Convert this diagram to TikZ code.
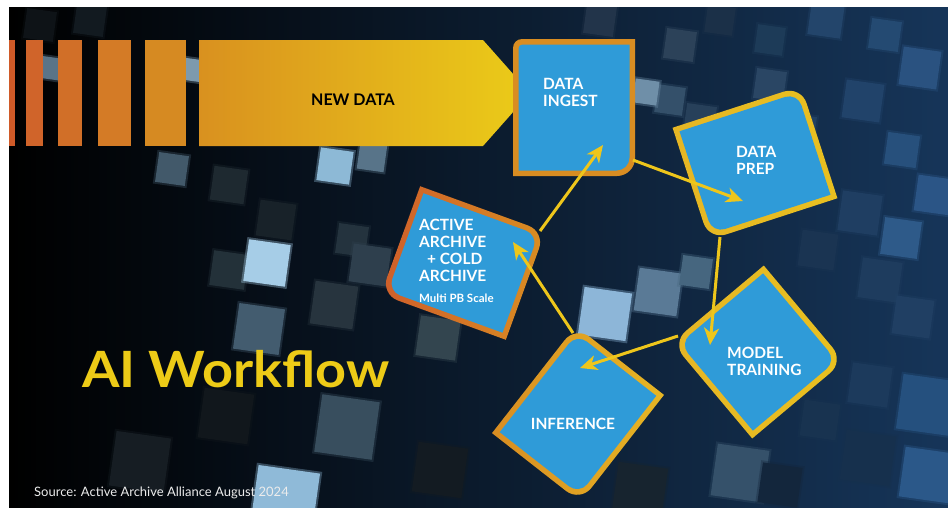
\documentclass[tikz,border=0pt]{standalone}
\usepackage{fontspec}
\usepackage{graphicx}
\setmainfont{Lato}
\usetikzlibrary{arrows.meta}

\definecolor{bgmid}{HTML}{081018}
\definecolor{bgright}{HTML}{163559}
\definecolor{boxblue}{HTML}{2F9BD8}
\definecolor{flowyellow}{HTML}{EEC61B}
\definecolor{titleyellow}{HTML}{EDCB17}
\definecolor{barA}{HTML}{CF5A28}
\definecolor{barB}{HTML}{D0642A}
\definecolor{barC}{HTML}{D16F28}
\definecolor{barD}{HTML}{D47B26}
\definecolor{barE}{HTML}{D68A22}
\definecolor{arrowL}{HTML}{D9911F}
\definecolor{arrowR}{HTML}{EBCC18}
\definecolor{rimOrange}{HTML}{D98D22}
\definecolor{rimRed}{HTML}{CF5F2A}
\definecolor{rimGold}{HTML}{E6B624}
\definecolor{rimYellow}{HTML}{E9C020}

% background tile with a faint halo: centre x, centre y, side, HTML colour
\newcommand{\bgsq}[4]{%
  \definecolor{sqc}{HTML}{#4}%
  \begin{scope}[shift={(#1,#2)}, rotate=-8]
    \fill[sqc, opacity=0.35] ({-(#3)/2-2},{-(#3)/2-2}) rectangle ({(#3)/2+2},{(#3)/2+2});
    \fill[sqc] ({-(#3)/2},{-(#3)/2}) rectangle ({(#3)/2},{(#3)/2});
  \end{scope}}

% card outline: width, height, radius of top-right corner, radius of bottom-left corner, path options
\newcommand{\cardshape}[5]{%
  \pgfmathsetmacro\cW{(#1)/2}%
  \pgfmathsetmacro\cH{(#2)/2}%
  \pgfmathsetmacro\cR{#3}%
  \pgfmathsetmacro\cK{0.448*(#3)}%
  \pgfmathsetmacro\cS{#4}%
  \pgfmathsetmacro\cL{0.448*(#4)}%
  \path[#5] (-\cW,-\cH) -- ({\cW-\cR},-\cH)
    .. controls ({\cW-\cK},-\cH) and (\cW,{-\cH+\cK}) .. (\cW,{-\cH+\cR})
    -- (\cW,\cH) -- ({-\cW+\cS},\cH)
    .. controls ({-\cW+\cL},\cH) and (-\cW,{\cH-\cL}) .. (-\cW,{\cH-\cS}) -- cycle;}

% card: name, cx, cy, rotation, width, height, r1, r2, left rim colour
\newcommand{\card}[9]{%
  \begin{scope}[shift={(#2,#3)}, rotate=#4]
    \cardshape{#5}{#6}{#7}{#8}{left color=#9, right color=\cardright}
    \cardshape{#5-11}{#6-11}{#7-5}{#8-5}{fill=boxblue}
    \coordinate (#1) at (0,0);
  \end{scope}}
\newcommand{\cardright}{rimOrange}

\begin{document}
\begin{tikzpicture}[x=1pt, y=-1pt,
  lbl/.style={text=white, inner sep=0pt, align=left,
    font=\bfseries\fontsize{15.5}{17}\selectfont},
  flow/.style={draw=flowyellow, line width=3pt,
    -{Stealth[length=17pt, width=15pt, inset=5pt]}}]

\useasboundingbox (0,0) rectangle (948,507);
\fill[white] (0,0) rectangle (948,507);

% dark backdrop
\shade[left color=black, middle color=bgmid, right color=bgright] (9,7) rectangle (948,507);

% scattered tiles
\begin{scope}
  \clip (9,7) rectangle (948,507);
  \bgsq{40}{25}{30}{0E1317}
  \bgsq{90}{20}{30}{121A20}
  \bgsq{49}{68}{22}{5A7488}
  \bgsq{193}{70}{22}{7D9AAE}
  \bgsq{172}{169}{30}{42596A}
  \bgsq{229}{185}{34}{1E2930}
  \bgsq{276}{220}{36}{182229}
  \bgsq{229}{270}{35}{233139}
  \bgsq{352}{240}{30}{24333E}
  \bgsq{370}{265}{38}{2E3F4D}
  \bgsq{267}{263}{42}{A6CDE7}
  \bgsq{335}{166}{33}{8DB9D6}
  \bgsq{372}{157}{27}{587489}
  \bgsq{334}{305}{43}{27343E}
  \bgsq{259}{329}{46}{435C6F}
  \bgsq{347}{427}{58}{384E5E}
  \bgsq{285}{500}{62}{8FBAD8}
  \bgsq{438}{338}{40}{33454F}
  \bgsq{140}{462}{55}{161D23}
  \bgsq{226}{416}{50}{11171C}
  \bgsq{440}{470}{50}{131B22}
  \bgsq{640}{490}{50}{17242F}
  \bgsq{600}{20}{30}{22344A}
  \bgsq{680}{45}{30}{2C4259}
  \bgsq{670}{100}{28}{34506A}
  \bgsq{700}{120}{30}{27405A}
  \bgsq{646}{92}{24}{6F8FA8}
  \bgsq{770}{85}{30}{2A4664}
  \bgsq{720}{20}{28}{1B3048}
  \bgsq{770}{40}{28}{1D3B58}
  \bgsq{800}{130}{30}{214163}
  \bgsq{605}{314}{48}{8DB6D8}
  \bgsq{658}{292}{43}{5A7A96}
  \bgsq{696}{272}{30}{46667F}
  \bgsq{740}{473}{52}{35516A}
  \bgsq{826}{20}{33}{23456B}
  \bgsq{885}{35}{30}{244A72}
  \bgsq{920}{68}{38}{2A5280}
  \bgsq{863}{101}{38}{21436A}
  \bgsq{902}{150}{32}{27507C}
  \bgsq{934}{195}{36}{2B5586}
  \bgsq{860}{213}{40}{1F3E62}
  \bgsq{901}{238}{37}{2E5A89}
  \bgsq{818}{250}{36}{1A3452}
  \bgsq{880}{280}{40}{1E3C5E}
  \bgsq{913}{317}{38}{203F63}
  \bgsq{870}{385}{40}{1C3A5C}
  \bgsq{820}{420}{36}{183350}
  \bgsq{927}{405}{55}{25507E}
  \bgsq{868}{458}{50}{16304D}
  \bgsq{927}{475}{50}{2B5889}
  \bgsq{780}{485}{40}{13263C}
\end{scope}

% "new data" stripes and arrow
\fill[barA] (9,40) rectangle (15,146);
\fill[barB] (26,40) rectangle (43,146);
\fill[barC] (58,40) rectangle (82,146);
\fill[barD] (98,40) rectangle (131,146);
\fill[barE] (145,40) rectangle (186,146);
\shade[left color=arrowL, right color=arrowR]
  (199,40) -- (483,40) -- (530,93) -- (483,146) -- (199,146) -- cycle;
\node[anchor=base, inner sep=0pt, text=black,
  font=\bfseries\fontsize{16}{18}\selectfont] (newdata) at (353,105) {NEW DATA};

% workflow cards
\renewcommand{\cardright}{rimOrange}
\card{ingestbox}{574}{107.5}{90}{137}{122}{9}{18}{rimOrange}
\renewcommand{\cardright}{rimYellow}
\card{prepbox}{755}{163}{18}{135}{118}{18}{18}{rimGold}
\renewcommand{\cardright}{rimOrange}
\card{archivebox}{463}{263}{-20}{133}{115}{18}{18}{rimRed}
\renewcommand{\cardright}{rimYellow}
\card{trainingbox}{758}{352}{-50}{125}{120}{18}{18}{rimGold}
\renewcommand{\cardright}{rimGold}
\card{inferencebox}{578}{414}{52}{136}{112}{18}{18}{rimOrange}

% card labels (anchored at the baseline of their last line)
\node[lbl, anchor=base west] (ingest) at (543,106.7) {DATA\\INGEST};
\node[lbl, anchor=base west] (prep) at (736,174) {DATA\\PREP};
\node[lbl, anchor=base west] (training) at (727,375) {MODEL\\TRAINING};
\node[lbl, anchor=base] (inference) at (573,429) {INFERENCE};
\node[lbl, anchor=base west] (archive) at (419,302)
  {ACTIVE\\ARCHIVE\\\hspace*{8pt}+ COLD\\ARCHIVE\\[4pt]{\fontsize{11.5}{13}\selectfont Multi PB Scale}};

% connector end points
\coordinate (archive-out) at (540,231);
\coordinate (ingest-in) at (603,145);
\coordinate (ingest-out) at (633,160);
\coordinate (prep-in) at (743,201);
\coordinate (prep-out) at (720,237);
\coordinate (training-in) at (710,345);
\coordinate (training-out) at (678,336);
\coordinate (inference-in) at (580,368);
\coordinate (inference-out) at (573,333);
\coordinate (archive-in) at (513,242);

\draw[flow] (archive-out) -- (ingest-in);
\draw[flow] (ingest-out) -- (prep-in);
\draw[flow] (prep-out) -- (training-in);
\draw[flow] (training-out) -- (inference-in);
\draw[flow] (inference-out) -- (archive-in);

% title and source
\node[anchor=base west, inner sep=0pt, text=titleyellow,
  font=\bfseries\fontsize{50}{56}\selectfont] (title) at (82,387) {\scalebox{1.08}[1]{AI Workflow}};
\node[anchor=base west, inner sep=0pt, text=white!85!gray,
  font=\fontsize{13}{15}\selectfont] (source) at (34,496) {Source: Active Archive Alliance August 2024};
\end{tikzpicture}
\end{document}
